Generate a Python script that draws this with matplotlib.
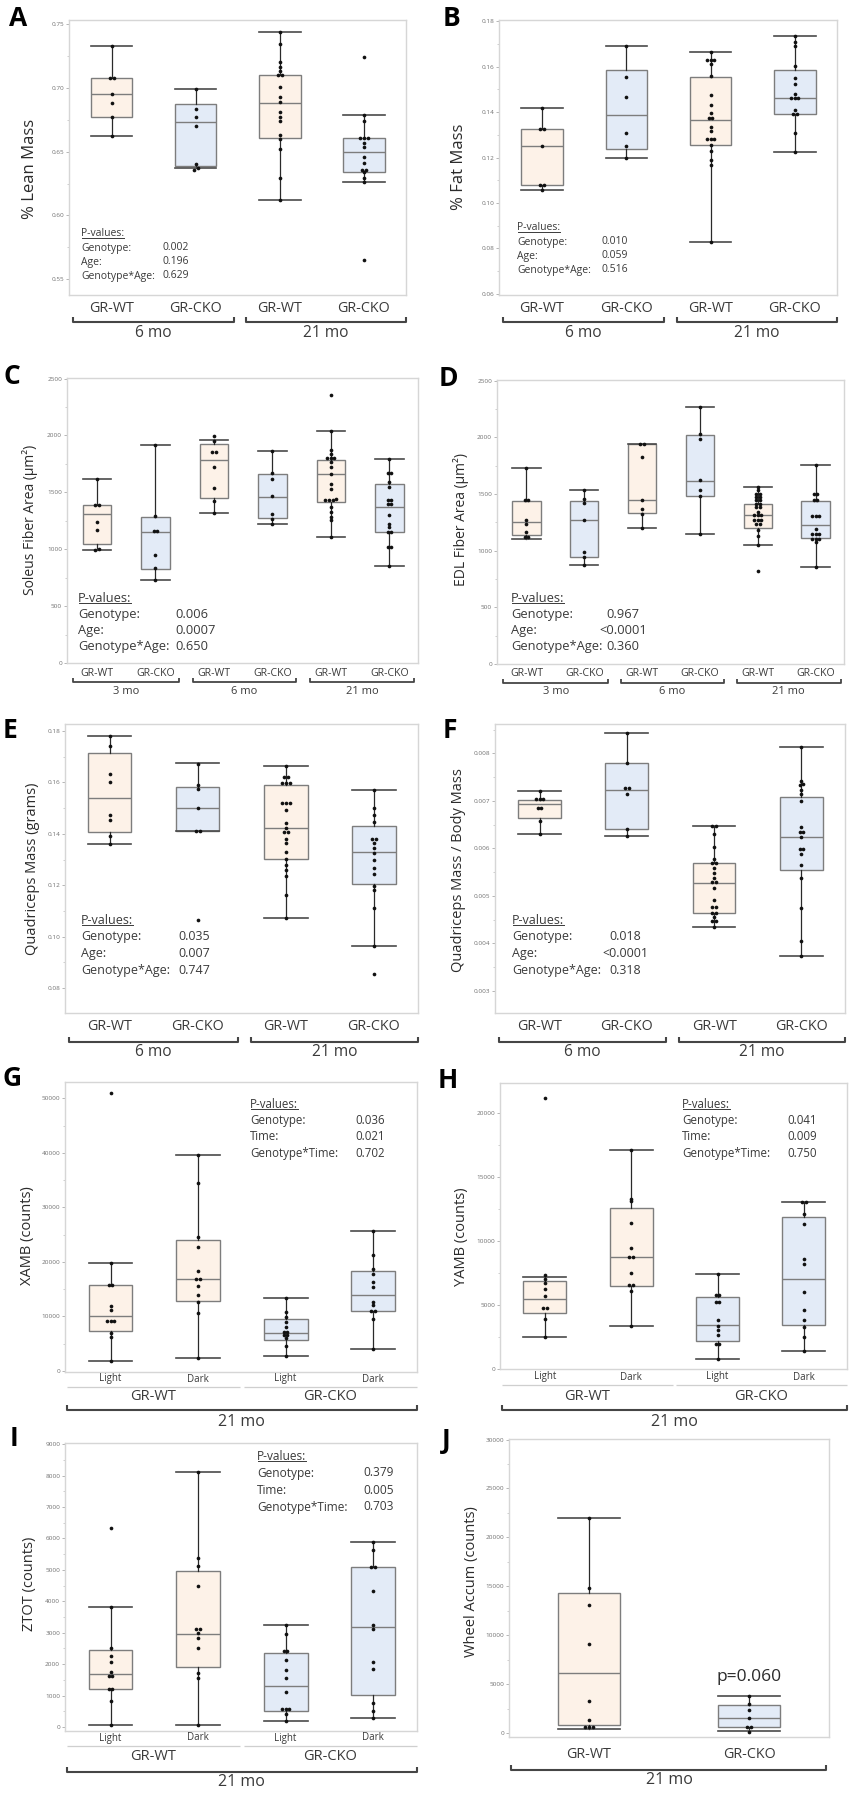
import matplotlib
matplotlib.use("Agg")
import matplotlib.pyplot as plt
from matplotlib.lines import Line2D
from matplotlib.transforms import offset_copy, IdentityTransform
from matplotlib.ticker import FormatStrFormatter, MultipleLocator

plt.rcParams['font.family'] = ['Open Sans', 'DejaVu Sans']

W, H = 852, 1798
WT_FILL = '#fdf2e8'
CKO_FILL = '#e3ebf7'
TXT = '#3a3a3a'

# ---- data (box stats are lo, q1, median, q3, hi) ----
two_ages = ['6 mo', '21 mo']
three_ages = ['3 mo', '6 mo', '21 mo']
geno = ['GR-WT', 'GR-CKO']
times = ['Light', 'Dark']

A_box = [(0.662, 0.677, 0.695, 0.708, 0.733), (0.637, 0.639, 0.673, 0.687, 0.699),
         (0.612, 0.661, 0.688, 0.710, 0.744), (0.626, 0.634, 0.6495, 0.661, 0.679)]
A_pts = [[0.733, 0.708, 0.708, 0.695, 0.688, 0.677, 0.662],
         [0.699, 0.683, 0.677, 0.670, 0.640, 0.637, 0.636],
         [0.744, 0.734, 0.720, 0.716, 0.713, 0.710, 0.710, 0.701, 0.693, 0.689, 0.681,
          0.677, 0.674, 0.663, 0.660, 0.652, 0.629, 0.612],
         [0.724, 0.679, 0.674, 0.661, 0.661, 0.661, 0.657, 0.654, 0.646, 0.641, 0.636,
          0.636, 0.634, 0.629, 0.626, 0.565]]
A_p = ['0.002', '0.196', '0.629']

B_box = [(0.1055, 0.1078, 0.1249, 0.1326, 0.1418), (0.1198, 0.1236, 0.1386, 0.1587, 0.1691),
         (0.0828, 0.1253, 0.1363, 0.1555, 0.1666), (0.1226, 0.1392, 0.1463, 0.1587, 0.1733)]
B_pts = [[0.142, 0.1325, 0.1325, 0.125, 0.108, 0.108, 0.1055],
         [0.169, 0.1554, 0.1468, 0.1307, 0.1249, 0.1198],
         [0.1666, 0.163, 0.163, 0.163, 0.1613, 0.1558, 0.1475, 0.1433, 0.1395, 0.1374, 0.1374,
          0.1333, 0.1317, 0.1282, 0.1282, 0.1282, 0.1253, 0.1230, 0.1189, 0.1166, 0.0828],
         [0.1733, 0.1708, 0.1689, 0.1602, 0.1548, 0.1523, 0.1479, 0.146, 0.146, 0.146,
          0.1409, 0.1392, 0.1392, 0.131, 0.1226]]
B_p = ['0.010', '0.059', '0.516']

C_box = [(996, 1049, 1307, 1392, 1621), (727, 829, 1152, 1281, 1920),
         (1322, 1454, 1782, 1929, 1958), (1225, 1275, 1462, 1665, 1867),
         (1105, 1415, 1659, 1788, 2040), (850, 1152, 1372, 1574, 1794)]
C_pts = [[1621, 1392, 1392, 1237, 1166, 1000, 996],
         [1920, 1290, 1160, 1160, 947, 835, 727],
         [1993, 1949, 1855, 1855, 1723, 1542, 1424, 1322],
         [1867, 1673, 1621, 1465, 1313, 1269, 1225],
         [2356, 2040, 1870, 1840, 1805, 1805, 1805, 1767, 1723, 1665, 1571, 1533, 1445,
          1430, 1430, 1430, 1372, 1325, 1284, 1254, 1105],
         [1794, 1670, 1670, 1591, 1547, 1430, 1430, 1395, 1395, 1304, 1225, 1196, 1152,
          1152, 1020, 1020, 850]]
C_p = ['0.006', '0.0007', '0.650']

D_box = [(1106, 1136, 1253, 1441, 1725), (871, 945, 1274, 1435, 1532),
         (1203, 1332, 1444, 1942, 1942), (1144, 1479, 1614, 2016, 2265),
         (1048, 1203, 1312, 1414, 1561), (857, 1115, 1229, 1438, 1758)]
D_pts = [[1725, 1444, 1444, 1274, 1238, 1165, 1121, 1121],
         [1532, 1458, 1420, 1274, 989, 945, 871],
         [1942, 1942, 1830, 1450, 1370, 1326, 1203],
         [2265, 2025, 1987, 1620, 1538, 1479, 1144],
         [1561, 1532, 1502, 1502, 1473, 1473, 1444, 1444, 1414, 1414, 1385, 1385, 1341,
          1312, 1312, 1312, 1274, 1274, 1274, 1238, 1238, 1180, 1127, 1048, 822],
         [1758, 1502, 1502, 1444, 1444, 1303, 1303, 1303, 1194, 1150, 1150, 1150, 1106,
          1106, 1106, 1077, 857]]
D_p = ['0.967', '<0.0001', '0.360']

E_box = [(0.1362, 0.1406, 0.1538, 0.1715, 0.1781), (0.1411, 0.1411, 0.1502, 0.1583, 0.1674),
         (0.1072, 0.1302, 0.1421, 0.159, 0.1663), (0.0962, 0.1204, 0.1331, 0.143, 0.1572)]
E_pts = [[0.178, 0.1743, 0.1632, 0.1601, 0.1473, 0.1452, 0.1392, 0.1362],
         [0.1671, 0.159, 0.1573, 0.1502, 0.1411, 0.1411, 0.1063],
         [0.1663, 0.1619, 0.1619, 0.1596, 0.1596, 0.1596, 0.1518, 0.1518, 0.1518, 0.1493,
          0.1441, 0.1421, 0.1408, 0.1408, 0.138, 0.1363, 0.1331, 0.1302, 0.1279, 0.126,
          0.1234, 0.1163, 0.1072],
         [0.1572, 0.1502, 0.1473, 0.1447, 0.138, 0.138, 0.1363, 0.1344, 0.1324, 0.1298,
          0.1266, 0.1243, 0.1195, 0.1182, 0.1113, 0.0962, 0.0853]]
E_p = ['0.035', '0.007', '0.747']

F_box = [(0.0063, 0.00663, 0.00693, 0.00702, 0.0072), (0.00625, 0.0064, 0.00723, 0.00779, 0.00842),
         (0.00434, 0.00464, 0.00526, 0.0057, 0.00647), (0.00373, 0.00554, 0.00623, 0.00709, 0.00814)]
F_pts = [[0.0072, 0.00704, 0.00704, 0.00704, 0.00684, 0.00684, 0.00658, 0.0063],
         [0.00842, 0.00779, 0.00727, 0.00727, 0.00714, 0.0064, 0.00625],
         [0.00647, 0.00647, 0.0063, 0.00602, 0.00577, 0.0057, 0.0057, 0.00559, 0.00549,
          0.00538, 0.00528, 0.00528, 0.00517, 0.00491, 0.00477, 0.00477, 0.00464, 0.00464,
          0.00456, 0.00447, 0.00447, 0.00434],
         [0.00814, 0.00742, 0.00735, 0.00733, 0.00722, 0.00715, 0.007, 0.00646, 0.00635,
          0.00635, 0.00623, 0.00599, 0.00599, 0.00588, 0.00564, 0.00538, 0.00474, 0.00405,
          0.00373]]
F_p = ['0.018', '<0.0001', '0.318']

G_box = [(1900, 7350, 10165, 15740, 19780), (2450, 12920, 16900, 24000, 39560),
         (2760, 5630, 6980, 9610, 13470), (3980, 10960, 13960, 18430, 25660)]
G_pts = [[50900, 19780, 15800, 15800, 12000, 11200, 9250, 9250, 9250, 7040, 6300, 1900],
         [39560, 34480, 24560, 22720, 18370, 16900, 16900, 15550, 13960, 12610, 10720, 2450],
         [13470, 10900, 9980, 8940, 8140, 7230, 7230, 6610, 6610, 6000, 4590, 2820],
         [25660, 21310, 18740, 17820, 16290, 15490, 12740, 12060, 11080, 11080, 9490, 4100]]
G_p = ['0.036', '0.021', '0.702']

H_box = [(2500, 4375, 5470, 6850, 7160), (3330, 6510, 8780, 12580, 17110),
         (780, 2190, 3460, 5625, 7420), (1430, 3440, 7060, 11880, 13050)]
H_pts = [[21170, 7370, 7060, 6720, 6280, 5730, 4740, 4740, 3930, 2500],
         [17110, 13310, 13100, 11410, 9480, 8780, 8780, 7470, 6560, 6560, 6120, 3330],
         [7420, 5810, 5810, 5260, 5260, 3800, 3330, 3020, 2680, 1980, 1980, 780],
         [13050, 13050, 12140, 11330, 8570, 8230, 5990, 4640, 3830, 3280, 2500, 1430]]
H_p = ['0.041', '0.009', '0.750']

I_box = [(53, 1210, 1676, 2440, 3820), (75, 1900, 2970, 4955, 8130),
         (190, 500, 1316, 2345, 3240), (286, 1030, 3195, 5080, 5880)]
I_pts = [[6345, 3820, 2504, 2250, 2080, 1760, 1610, 1610, 1210, 1210, 830, 53],
         [8130, 5380, 5115, 4480, 3110, 3110, 2990, 2840, 2515, 1730, 1570, 75],
         [3240, 2970, 2420, 2420, 2140, 1800, 1570, 1100, 584, 584, 584, 424, 190],
         [5880, 5620, 5090, 5090, 4320, 3250, 3120, 2070, 1835, 765, 510, 286]]
I_p = ['0.379', '0.005', '0.703']

J_box = [(443, 785, 6170, 14360, 22030), (170, 580, 1570, 2900, 3750)]
J_pts = [[22030, 14800, 13060, 9070, 3270, 1360, 614, 614, 614],
         [3750, 3000, 2390, 1570, 614, 614, 100]]

fig = plt.figure(figsize=(W / 100, H / 100), dpi=100)
underline_me = []


def make_axes(box, ylim, xlim, major, minor, fmt):
    l, t, r, b = box
    ax = fig.add_axes([l / W, 1 - b / H, (r - l) / W, (b - t) / H])
    ax.set_xlim(*xlim)
    ax.set_ylim(*ylim)
    for s in ax.spines.values():
        s.set_color('#d6d6d6')
        s.set_linewidth(1.0)
    ax.tick_params(axis='x', bottom=False, labelbottom=False)
    ax.tick_params(axis='y', which='major', length=2.5, width=0.5, color='#999999',
                   labelsize=4.6, labelcolor='#707070', pad=1)
    ax.tick_params(axis='y', which='minor', length=1.5, width=0.4, color='#aaaaaa')
    ax.yaxis.set_major_locator(MultipleLocator(major))
    ax.yaxis.set_minor_locator(MultipleLocator(minor))
    ax.yaxis.set_major_formatter(FormatStrFormatter(fmt))
    ax.set_facecolor('white')
    return ax


def draw_groups(ax, boxes, pts, fills, width, box_px):
    pos = list(range(1, len(boxes) + 1))
    stats = [dict(whislo=b[0], q1=b[1], med=b[2], q3=b[3], whishi=b[4], fliers=[])
             for b in boxes]
    res = ax.bxp(stats, positions=pos, widths=width, capwidths=width, patch_artist=True,
                 showfliers=False,
                 boxprops=dict(edgecolor='#7d7d7d', linewidth=1.0),
                 medianprops=dict(color='#7d7d7d', linewidth=1.0),
                 whiskerprops=dict(color='#2a2a2a', linewidth=0.9),
                 capprops=dict(color='#4a4a4a', linewidth=1.2))
    for patch, fc in zip(res['boxes'], fills):
        patch.set_facecolor(fc)
    # beeswarm-like spread for tied values
    l, t, r, b = box_px
    x0, x1 = ax.get_xlim()
    y0, y1 = ax.get_ylim()
    step = 3.6 * (x1 - x0) / (r - l)
    tol = 2.5 * (y1 - y0) / (b - t)
    for p, vals in zip(pos, pts):
        vs = sorted(vals)
        clusters = [[vs[0]]]
        for v in vs[1:]:
            if v - clusters[-1][-1] < tol:
                clusters[-1].append(v)
            else:
                clusters.append([v])
        xs, ys = [], []
        for c in clusters:
            n = len(c)
            for k, v in enumerate(c):
                xs.append(p + (k - (n - 1) / 2) * step)
                ys.append(v)
        ax.scatter(xs, ys, s=7, color='#111111', zorder=4, linewidths=0)


def ylabel(ax, text, xpix, ypix, size):
    fig.text(xpix / W, 1 - ypix / H, text, rotation=90, ha='center', va='center',
             fontsize=size, color='#2b2b2b')


def below(ax, x, px, s, size, color=TXT):
    tr = offset_copy(ax.get_xaxis_transform(), fig=fig, x=0, y=-px, units='dots')
    ax.text(x, 0, s, transform=tr, ha='center', va='center', fontsize=size,
            color=color, clip_on=False)


def bracket(ax, x0, x1, px, h_px, tick=5, lw=1.5, color='#454545'):
    tr = offset_copy(ax.get_xaxis_transform(), fig=fig, x=0, y=-px, units='dots')
    dy = tick / h_px
    ax.plot([x0, x0, x1, x1], [dy, 0, 0, dy], transform=tr, color=color, lw=lw,
            clip_on=False, solid_capstyle='butt')


def pvalues(xl, y0, dy, xv, ha_v, size, names, vals):
    t = fig.text(xl / W, 1 - y0 / H, 'P-values:', fontsize=size, color=TXT,
                 ha='left', va='center')
    underline_me.append(t)
    for i, (n, v) in enumerate(zip(names, vals)):
        y = y0 + dy * (i + 1)
        fig.text(xl / W, 1 - y / H, n, fontsize=size, color=TXT, ha='left', va='center')
        fig.text(xv / W, 1 - y / H, v, fontsize=size, color=TXT, ha=ha_v, va='center')


def letter(s, x, y):
    fig.text(x / W, 1 - y / H, s, fontsize=19, fontweight='bold', ha='center',
             va='center', color='black')


age_names = ['Genotype:', 'Age:', 'Genotype*Age:']
time_names = ['Genotype:', 'Time:', 'Genotype*Time:']
fills4 = [WT_FILL, CKO_FILL, WT_FILL, CKO_FILL]
fills6 = [WT_FILL, CKO_FILL] * 3
fillsT = [WT_FILL, WT_FILL, CKO_FILL, CKO_FILL]


def two_age_panel(box, ylim, major, minor, fmt, boxes, pts, lab, lab_x, lab_y, lab_size):
    ax = make_axes(box, ylim, (0.49, 4.5), major, minor, fmt)
    draw_groups(ax, boxes, pts, fills4, 0.49, box)
    ylabel(ax, lab, lab_x, lab_y, lab_size)
    return ax


def two_age_bottom(ax, box, off_cat, off_br, off_age):
    h = box[3] - box[1]
    for i, g in enumerate(geno * 2):
        below(ax, i + 1, off_cat, g, 10.3)
    for (x0, x1), a in zip([(0.54, 2.45), (2.6, 4.5)], two_ages):
        bracket(ax, x0, x1, off_br, h)
        below(ax, (x0 + x1) / 2, off_age, a, 11.2)


# ---- A ----
boxA = (69, 20, 406, 295)
axA = two_age_panel(boxA, (0.5377, 0.7531), 0.05, 0.025, '%.2f', A_box, A_pts,
                    '% Lean Mass', 30, 169, 12)
two_age_bottom(axA, boxA, 13, 27, 38)
pvalues(81, 234, 14, 176, 'center', 7.5, age_names, A_p)

# ---- B ----
boxB = (499, 20, 837, 295)
axB = two_age_panel(boxB, (0.0595, 0.1805), 0.02, 0.01, '%.2f', B_box, B_pts,
                    '% Fat Mass', 459, 167, 12)
two_age_bottom(axB, boxB, 13, 27, 38)
pvalues(517, 228, 14, 615, 'center', 7.5, age_names, B_p)


# ---- C / D ----
def three_age_panel(box, boxes, pts, lab, lab_x, lab_y):
    ax = make_axes(box, (0, 2505), (0.49, 6.49), 500, 250, '%d')
    draw_groups(ax, boxes, pts, fills6, 0.49, box)
    ylabel(ax, lab, lab_x, lab_y, 10)
    h = box[3] - box[1]
    for i, g in enumerate(geno * 3):
        below(ax, i + 1, 10, g, 7.6)
    for (x0, x1), a in zip([(0.6, 2.41), (2.64, 4.41), (4.64, 6.43)], three_ages):
        bracket(ax, x0, x1, 19, h, tick=4, lw=1.3)
        below(ax, (x0 + x1) / 2, 28, a, 8)
    return ax


boxC = (67, 378, 418, 663)
axC = three_age_panel(boxC, C_box, C_pts, 'Soleus Fiber Area (µm²)', 30, 520)
pvalues(78, 598, 16.3, 175, 'left', 9.3, age_names, C_p)

boxD = (497, 380, 844, 664)
axD = three_age_panel(boxD, D_box, D_pts, 'EDL Fiber Area (µm²)', 461, 520)
pvalues(511, 598, 16.3, 623, 'center', 9.3, age_names, D_p)

# ---- E ----
boxE = (65, 724, 418, 1013)
axE = two_age_panel(boxE, (0.0703, 0.1827), 0.02, 0.01, '%.2f', E_box, E_pts,
                    'Quadriceps Mass (grams)', 33, 869, 10.5)
two_age_bottom(axE, boxE, 14, 29, 39)
pvalues(81, 920, 16.7, 178, 'left', 9, age_names, E_p)

# ---- F ----
boxF = (495, 724, 845, 1013)
axF = two_age_panel(boxF, (0.00253, 0.00862), 0.001, 0.0005, '%.3f', F_box, F_pts,
                    'Quadriceps Mass / Body Mass', 459, 870, 10.5)
two_age_bottom(axF, boxF, 14, 29, 39)
pvalues(512, 920, 16.7, 625, 'center', 9, age_names, F_p)


# ---- G / H / I ----
def time_panel(box, ylim, major, minor, boxes, pts, lab, lab_x, lab_y, offs):
    ax = make_axes(box, ylim, (0.48, 4.5), major, minor, '%d')
    draw_groups(ax, boxes, pts, fillsT, 0.5, box)
    ylabel(ax, lab, lab_x, lab_y, 10.5)
    h = box[3] - box[1]
    o_t, o_line, o_g, o_br, o_age = offs
    for i, t in enumerate(times * 2):
        below(ax, i + 1, o_t, t, 7)
    for (x0, x1), g in zip([(0.5, 2.48), (2.52, 4.5)], geno):
        bracket(ax, x0, x1, o_line, h, tick=0, lw=0.9, color='#cfcfcf')
        below(ax, (x0 + x1) / 2, o_g, g, 10.5)
    bracket(ax, 0.5, 4.5, o_br, h, tick=5)
    below(ax, 2.5, o_age, '21 mo', 11.5)
    return ax


boxG = (65, 1082, 417, 1372)
axG = time_panel(boxG, (-180, 53000), 10000, 5000, G_box, G_pts, 'XAMB (counts)', 28, 1236,
                 (7, 15, 25, 38, 50))
pvalues(250, 1104, 16.5, 355, 'left', 8.3, time_names, G_p)

boxH = (500, 1083, 847, 1369)
axH = time_panel(boxH, (0, 22340), 5000, 2500, H_box, H_pts, 'YAMB (counts)', 461, 1237,
                 (8, 16, 28, 41, 53))
pvalues(682, 1104, 16.5, 787, 'left', 8.3, time_names, H_p)

boxI = (65, 1443, 417, 1731)
axI = time_panel(boxI, (-130, 9040), 1000, 500, I_box, I_pts, 'ZTOT (counts)', 29, 1584,
                 (7, 15, 26, 41, 51))
pvalues(257, 1456, 17, 363, 'left', 8.6, time_names, I_p)

# ---- J ----
boxJ = (509, 1439, 829, 1737)
axJ = make_axes(boxJ, (-410, 30060), (0.5, 2.5), 5000, 2500, '%d')
draw_groups(axJ, J_box, J_pts, [WT_FILL, CKO_FILL], 0.39, boxJ)
ylabel(axJ, 'Wheel Accum (counts)', 471, 1582, 10.5)
for i, g in enumerate(geno):
    below(axJ, i + 1, 18, g, 10.3)
bracket(axJ, 0.51, 2.48, 33, boxJ[3] - boxJ[1], tick=5)
below(axJ, 1.5, 43, '21 mo', 11.5)
axJ.text(2, 5700, 'p=0.060', ha='center', va='center', fontsize=12.5, color='#2b2b2b')

# ---- panel letters ----
for s, x, y in [('A', 18, 18), ('B', 451, 18), ('C', 12, 376), ('D', 448, 379),
                ('E', 10, 731), ('F', 450, 731), ('G', 12, 1079), ('H', 448, 1081),
                ('I', 14, 1438), ('J', 446, 1441)]:
    letter(s, x, y)

# underline the "P-values:" headers
fig.canvas.draw()
rend = fig.canvas.get_renderer()
for t in underline_me:
    bb = t.get_window_extent(rend)
    fig.add_artist(Line2D([bb.x0 + 0.5, bb.x1 - 0.5], [bb.y0 + 1.5, bb.y0 + 1.5],
                          transform=IdentityTransform(), color=TXT, lw=0.7))

fig.savefig('out.png', dpi=100)
